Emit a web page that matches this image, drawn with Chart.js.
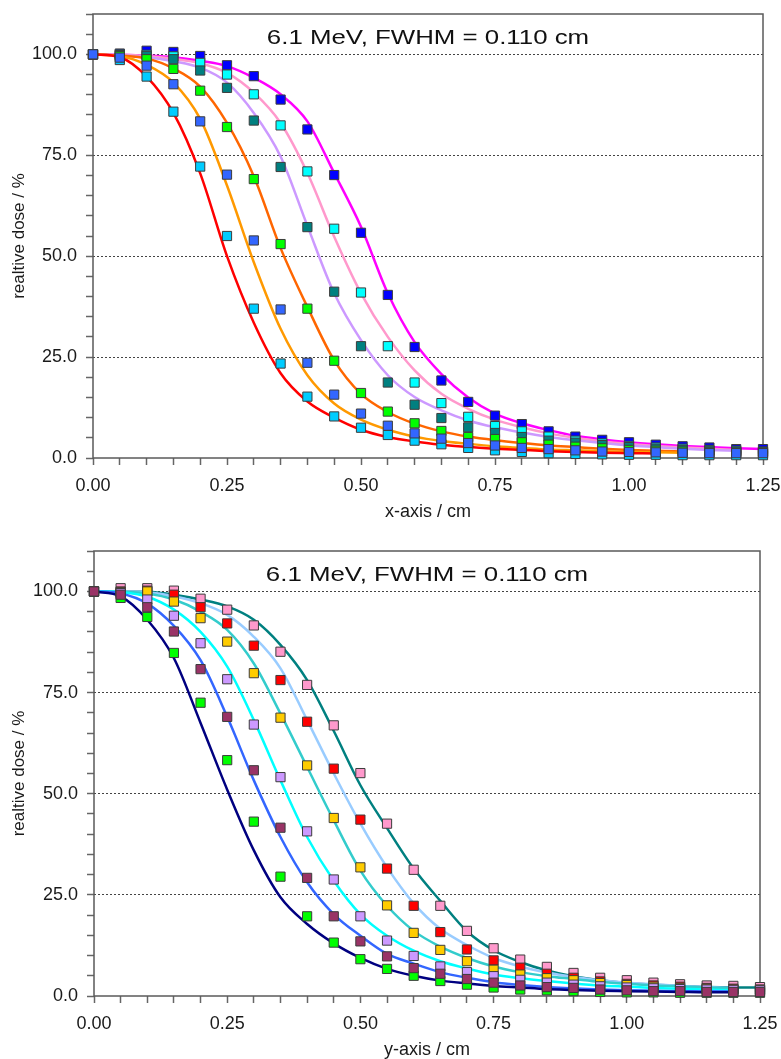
<!DOCTYPE html>
<html><head><meta charset="utf-8">
<script src="https://cdn.jsdelivr.net/npm/chart.js@4.4.1/dist/chart.umd.min.js"></script>
<style>
html,body{margin:0;padding:0;background:#fff;width:781px;height:1059px;overflow:hidden}
#c1{position:absolute;left:0;top:0;width:781px;height:530px}
#c2{position:absolute;left:0;top:530px;width:781px;height:529px}
</style></head><body>
<div id="c1"><canvas id="topChart"></canvas></div>
<div id="c2"><canvas id="botChart"></canvas></div>
<script>
// ---------- shared ----------
const chartTitle = '6.1 MeV, FWHM = 0.110 cm';
const yTitle = 'realtive dose / %';
const xPos = [0,0.05,0.1,0.15,0.2,0.25,0.3,0.35,0.4,0.45,0.5,0.55,0.6,0.65,0.7,0.75,0.8,0.85,0.9,0.95,1.0,1.05,1.1,1.15,1.2,1.25];

// ---------- top chart (x-axis) : measured points ----------
const topMarkLightBlue = [100,98.6,94.5,85.8,72.2,55.0,37.0,23.4,15.2,10.3,7.5,5.7,4.3,3.4,2.5,1.9,1.5,1.2,1.0,0.9,0.8,0.8,0.7,0.7,0.7,0.7];
const topMarkRoyal     = [100,99.2,97.2,92.6,83.4,70.2,53.9,36.8,23.6,15.7,11.0,8.0,6.1,4.8,3.7,3.1,2.5,2.2,1.9,1.6,1.5,1.4,1.3,1.2,1.2,1.2];
const topMarkGreen     = [100,99.6,98.8,96.4,91.0,82.0,69.1,53.0,37.0,24.1,16.1,11.5,8.6,6.7,5.2,4.7,3.9,3.3,2.8,2.4,2.0,1.8,1.6,1.4,1.3,1.2];
const topMarkTeal      = [100,99.8,99.6,98.8,96.0,91.7,83.6,72.1,57.2,41.2,27.7,18.7,13.2,9.9,7.6,6.2,5.2,4.3,3.8,3.2,2.7,2.3,2.0,1.8,1.6,1.5];
const topMarkCyan      = [100,100,99.9,99.5,97.9,95.0,90.1,82.4,71.0,56.8,41.0,27.7,18.7,13.6,10.2,7.9,6.6,5.3,4.3,3.6,3.0,2.6,2.3,2.0,1.8,1.6];
const topMarkBlue      = [100,100.2,100.9,100.6,99.6,97.3,94.6,88.8,81.4,70.1,55.8,40.4,27.5,19.2,13.9,10.5,8.4,6.6,5.3,4.5,3.9,3.3,2.9,2.6,2.2,2.2];
// ---------- top chart : calculated curves ----------
const topLineRed       = [100,99.3,94.5,85.5,70.5,50.0,33.5,21.0,14.0,10.0,7.0,5.2,4.1,3.3,2.7,2.3,2.0,1.7,1.5,1.3,1.2,1.1];
const topLineOrange    = [100,99.6,97.4,93.0,84.0,67.5,48.5,32.0,20.5,13.5,9.5,7.0,5.3,4.2,3.5,2.9,2.5,2.1,1.9,1.7,1.5,1.4,1.3];
const topLineOrangeRed = [100,99.7,99.0,96.5,92.0,83.0,69.8,52.0,37.4,24.2,15.9,11.4,8.5,6.6,5.3,4.4,3.7,3.1,2.7,2.3,2.0,1.8,1.6];
const topLineLavender  = [100,99.8,99.3,98.3,96.7,93.0,85.5,74.7,57.5,40.8,29.2,20.5,15.1,11.8,9.3,7.6,6.3,5.2,4.4,3.7,3.1,2.7,2.3,2.0,1.8];
const topLinePink      = [100,99.9,99.6,98.9,97.8,95.4,90.5,83.0,70.6,54.8,40.8,30.0,21.7,15.9,12.2,9.5,7.6,6.1,5.0,4.1,3.5,3.0,2.6,2.3,2.0];
const topLineMagenta   = [100,99.9,99.7,99.3,98.4,97.1,94.2,90.1,83.4,70.6,57.3,40.8,28.7,20.8,15.0,11.0,8.6,6.9,5.5,4.6,3.9,3.4,3.0,2.7,2.4,2.2];

// ---------- bottom chart (y-axis) : measured points ----------
const botMarkPink     = [100,100.8,100.8,100.2,98.2,95.5,91.6,85.1,76.9,66.9,55.1,42.6,31.2,22.3,16.1,11.8,9.0,7.2,5.7,4.5,3.9,3.3,2.9,2.6,2.5,2.2];
const botMarkRed      = [100,100,100.2,99.2,96.1,92.1,86.6,78.1,67.8,56.2,43.6,31.5,22.3,15.8,11.5,8.8,7.0,5.5,4.5,3.6,3.0,2.6,2.3,2.0,1.8,1.6];
const botMarkGold     = [100,99.8,100.0,97.5,93.4,87.6,79.8,68.8,57.0,44.0,31.8,22.4,15.6,11.4,8.6,6.5,5.3,4.4,3.9,3.2,2.7,2.3,2.0,1.8,1.6,1.5];
const botMarkLavender = [100,99.6,98.0,94.0,87.2,78.3,67.1,54.1,40.7,28.8,19.7,13.7,9.9,7.3,5.9,4.9,4.0,3.3,2.8,2.4,2.1,1.9,1.7,1.6,1.5,1.4];
const botMarkGreen    = [100,98.4,93.7,84.8,72.5,58.3,43.1,29.5,19.7,13.2,9.1,6.7,5.0,3.7,2.8,2.1,1.6,1.4,1.2,1.0,0.9,0.9,0.8,0.8,0.8,0.8];
const botMarkMaroon   = [100,99.2,96.1,90.1,80.8,69.0,55.8,41.6,29.2,19.7,13.5,9.8,6.9,5.5,4.2,3.3,2.6,2.2,2.0,1.6,1.4,1.2,1.2,1.0,1.0,1.0];
// ---------- bottom chart : calculated curves ----------
const botLineNavy      = [100,98.8,93.0,83.5,67.5,51.0,36.0,24.4,17.8,13.0,9.4,6.7,5.0,3.8,3.1,2.5,2.1,1.7,1.5,1.3,1.2,1.1,1.0,0.9,0.9];
const botLineRoyal     = [100,99.5,97.0,91.5,83.0,69.0,53.3,39.3,28.1,20.2,14.9,10.4,8.0,5.9,4.5,3.4,2.7,2.2,1.9,1.6,1.4,1.3,1.2,1.15,1.1];
const botLineCyan      = [100,99.8,98.7,95.5,90.0,81.4,68.2,53.3,39.3,28.5,20.2,14.9,11.2,8.6,6.8,5.3,4.4,3.7,3.1,2.6,2.3,2.0,1.8,1.6,1.4];
const botLineTurquoise = [100,99.9,99.5,98.0,95.0,90.5,82.2,69.8,56.6,43.4,31.0,22.3,16.1,12.2,9.4,7.3,5.9,4.9,4.2,3.5,3.0,2.6,2.4,2.1,1.9];
const botLineSky       = [100,100,99.8,98.8,97.1,94.2,88.8,81.0,68.2,55.0,42.6,31.8,22.9,16.6,12.6,9.4,7.3,5.8,4.7,3.9,3.3,2.9,2.5,2.2,2.0];
const botLineTeal      = [100,100,99.9,99.2,98.0,96.3,93.0,86.8,78.1,65.5,52.1,41.5,31.5,23.5,16.0,11.3,8.4,6.3,4.9,3.9,3.2,2.8,2.5,2.2,2.1,2.1];

Chart.defaults.font.family = '"Liberation Sans", Arial, sans-serif';
Chart.defaults.color = '#1a1a1a';

const framePlugin = {
  id: 'frame',
  beforeDatasetsDraw(chart) {
    const {ctx, chartArea: a} = chart;
    ctx.save();
    ctx.strokeStyle = '#5a5a5a';
    ctx.lineWidth = 1.5;
    ctx.strokeRect(a.left, a.top, a.right - a.left, a.bottom - a.top);
    ctx.restore();
  }
};
const inTitlePlugin = {
  id: 'inTitle',
  afterDraw(chart, args, opts) {
    const {ctx, chartArea: a} = chart;
    ctx.save();
    ctx.font = '21px "Liberation Sans", Arial, sans-serif';
    ctx.fillStyle = '#111';
    ctx.textAlign = 'center';
    ctx.textBaseline = 'alphabetic';
    ctx.translate((a.left + a.right) / 2, a.top + 29.5);
    ctx.scale(1.23, 1);
    ctx.fillText(opts.text, 0, 0);
    ctx.restore();
  }
};

function zeroPad(s) { s.paddingLeft = 0; s.paddingRight = 0; s.paddingTop = 0; s.paddingBottom = 0; }

function buildChart(id, p) {
  const datasets = [];
  p.marks.forEach(m => datasets.push({
    type: 'scatter',
    data: xPos.map((x, i) => ({x: x, y: m.values[i]})),
    pointStyle: 'rect', pointRadius: 6.5, pointHoverRadius: 6.5,
    backgroundColor: m.color, borderColor: '#3c3c3c', borderWidth: 1,
    showLine: false, clip: false
  }));
  p.lines.forEach(l => datasets.push({
    type: 'line',
    data: l.values.map((y, i) => ({x: xPos[i], y: y})),
    borderColor: l.color, borderWidth: 2.5, pointRadius: 0,
    cubicInterpolationMode: 'monotone', fill: false, clip: false
  }));
  return new Chart(document.getElementById(id), {
    type: 'scatter',
    data: {datasets},
    plugins: [framePlugin, inTitlePlugin],
    options: {
      responsive: true, maintainAspectRatio: false, animation: false, devicePixelRatio: 1,
      layout: {padding: {left: 0, top: p.padTop, right: p.padRight, bottom: 0}},
      plugins: {legend: {display: false}, tooltip: {enabled: false}, inTitle: {text: chartTitle}},
      scales: {
        x: {
          type: 'linear', min: 0, max: 1.25,
          afterFit: s => { s.height = p.xH; zeroPad(s); },
          ticks: {stepSize: 0.05, autoSkip: false, maxRotation: 0, padding: 10,
                  font: {size: 18},
                  callback: v => (Math.abs(v * 4 - Math.round(v * 4)) < 1e-6 ? Number(v).toFixed(2) : '')},
          grid: {drawOnChartArea: false, tickLength: 7, tickColor: '#666', tickWidth: 1.5},
          border: {display: false},
          title: {display: true, text: p.xTitle, font: {size: 18, lineHeight: 1}, padding: {top: 0, bottom: p.xTitlePad}}
        },
        y: {
          type: 'linear', min: 0, max: 110,
          afterFit: s => { s.width = p.yW; zeroPad(s); },
          ticks: {stepSize: 5, autoSkip: false, padding: 9, font: {size: 18},
                  callback: v => (v % 25 === 0 ? Number(v).toFixed(1) : '')},
          grid: {
            color: c => (c.tick && c.tick.value % 25 === 0 && c.tick.value > 0 && c.tick.value < 110) ? '#444' : 'rgba(0,0,0,0)',
            lineWidth: 1, tickLength: 7, tickColor: '#666', tickWidth: 1.5
          },
          border: {display: false, dash: [2, 2]},
          title: {display: true, text: yTitle, font: {size: 17, lineHeight: 1}, padding: {top: 11, bottom: 0}}
        }
      }
    }
  });
}

buildChart('topChart', {
  padTop: 14, padRight: 18, xH: 72, yW: 93, xTitle: 'x-axis / cm', xTitlePad: 9,
  marks: [
    {values: topMarkRoyal, color: '#3366FF'},
    {values: topMarkLightBlue, color: '#00CCFF'},
    {values: topMarkGreen, color: '#00FF00'},
    {values: topMarkTeal, color: '#008080'},
    {values: topMarkCyan, color: '#00FFFF'},
    {values: topMarkBlue, color: '#0000FF'}
  ],
  lines: [
    {values: topLineRed, color: '#FF0000'},
    {values: topLineOrange, color: '#FF9900'},
    {values: topLineOrangeRed, color: '#FF6600'},
    {values: topLineLavender, color: '#CC99FF'},
    {values: topLinePink, color: '#FF99CC'},
    {values: topLineMagenta, color: '#FF00FF'}
  ]
});

buildChart('botChart', {
  padTop: 21, padRight: 21, xH: 63, yW: 94, xTitle: 'y-axis / cm', xTitlePad: 0,
  marks: [
    {values: botMarkMaroon, color: '#993366'},
    {values: botMarkGreen, color: '#00FF00'},
    {values: botMarkLavender, color: '#CC99FF'},
    {values: botMarkGold, color: '#FFCC00'},
    {values: botMarkRed, color: '#FF0000'},
    {values: botMarkPink, color: '#FF99CC'}
  ],
  lines: [
    {values: botLineNavy, color: '#000080'},
    {values: botLineRoyal, color: '#3366FF'},
    {values: botLineCyan, color: '#00FFFF'},
    {values: botLineTurquoise, color: '#33CCCC'},
    {values: botLineSky, color: '#99CCFF'},
    {values: botLineTeal, color: '#008080'}
  ]
});
</script>
</body></html>
